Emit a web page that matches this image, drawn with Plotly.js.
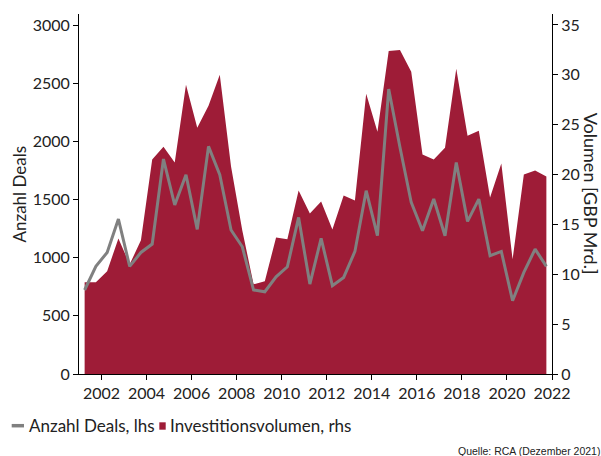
<!DOCTYPE html>
<html>
<head>
<meta charset="utf-8">
<script src="https://cdn.plot.ly/plotly-3.0.1.min.js"></script>
<style>html,body{margin:0;padding:0;background:#fff;}#chart{width:601px;height:456px;}</style>
</head>
<body>
<div id="chart"></div>
<script>
// half-year periods, plotted at mid-half positions
const periods = [];
for (let y = 2001; y <= 2021; y++) { periods.push(y + 0.25); periods.push(y + 0.75); }

const anzahlDeals = [722, 925, 1045, 1332, 925, 1045, 1117, 1848, 1453, 1713,
  1243, 1957, 1713, 1238, 1094, 722, 707, 836, 922, 1346,
  773, 1166, 759, 830, 1054, 1576, 1189, 2450, 1950, 1475,
  1232, 1504, 1189, 1819, 1312, 1504, 1017, 1054, 630, 873,
  1074, 925];

const investitionsvolumen = [9.2, 9.2, 10.3, 13.6, 11.0, 13.4, 21.5, 22.8, 21.2, 29.0,
  24.7, 26.9, 30.0, 20.8, 14.4, 9.0, 9.3, 13.7, 13.5, 18.4,
  16.1, 17.3, 14.5, 17.9, 17.4, 28.1, 24.3, 32.4, 32.5, 30.3,
  22.0, 21.5, 22.7, 30.6, 23.9, 24.4, 17.7, 21.1, 11.5, 20.0,
  20.4, 19.8];

const xTicks = [2002, 2004, 2006, 2008, 2010, 2012, 2014, 2016, 2018, 2020, 2022];
const leftTicks = [0, 500, 1000, 1500, 2000, 2500, 3000];
const rightTicks = [0, 5, 10, 15, 20, 25, 30, 35];

const RED = '#9e1c37';
const GREY = '#808080';
const FONT = 'Lato, "Open Sans", sans-serif';
const TXT = '#222';

const traces = [
  {x: periods, y: investitionsvolumen, yaxis: 'y', type: 'scatter', mode: 'lines',
   fill: 'tozeroy', fillcolor: RED, line: {color: RED, width: 0},
   name: 'Investitionsvolumen, rhs', showlegend: false, hoverinfo: 'skip'},
  {x: periods, y: anzahlDeals, yaxis: 'y2', type: 'scatter', mode: 'lines',
   line: {color: GREY, width: 3}, name: 'Anzahl Deals, lhs', showlegend: false, hoverinfo: 'skip'}
];

const axCommon = {showgrid: false, zeroline: false, showline: true, linecolor: '#000', linewidth: 1,
  ticks: 'outside', ticklen: 5, tickcolor: '#000', tickfont: {family: FONT, size: 16, color: TXT}};

const layout = {
  width: 601, height: 456,
  margin: {l: 79, r: 49, t: 14, b: 82},
  paper_bgcolor: '#fff', plot_bgcolor: '#fff',
  font: {family: FONT, size: 16, color: TXT},
  showlegend: false,
  xaxis: Object.assign({range: [2001, 2022], tickvals: xTicks, ticktext: xTicks.map(String)}, axCommon),
  // volume axis (right) is the base axis so the deals line is drawn on top
  yaxis: Object.assign({range: [0, 36.1], side: 'right', tickvals: rightTicks, ticktext: rightTicks.map(String)}, axCommon),
  yaxis2: Object.assign({range: [0, 3095], side: 'left', overlaying: 'y', tickvals: leftTicks, ticktext: leftTicks.map(String)}, axCommon),
  shapes: [
    {type: 'line', xref: 'paper', yref: 'paper', x0: -0.1423, x1: -0.1163, y0: -0.1436, y1: -0.1436,
     line: {color: GREY, width: 3.5}},
    {type: 'rect', xref: 'paper', yref: 'paper', x0: 0.1698, x1: 0.1833, y0: -0.1547, y1: -0.1342,
     fillcolor: RED, line: {width: 0}}
  ],
  annotations: [
    {text: 'Anzahl Deals', textangle: -90, xref: 'paper', yref: 'paper', x: -0.1258, y: 0.5,
     xanchor: 'center', yanchor: 'middle', showarrow: false, font: {family: FONT, size: 17, color: TXT}},
    {text: 'Volumen [GBP Mrd.]', textangle: 90, xref: 'paper', yref: 'paper', x: 1.083, y: 0.5,
     xanchor: 'center', yanchor: 'middle', showarrow: false, font: {family: FONT, size: 18, color: TXT}},
    {text: 'Anzahl Deals, lhs', xref: 'paper', yref: 'paper', x: -0.1093, y: -0.1425,
     xanchor: 'left', yanchor: 'middle', showarrow: false, font: {family: FONT, size: 17, color: TXT}},
    {text: 'Investitionsvolumen, rhs', xref: 'paper', yref: 'paper', x: 0.188, y: -0.1425,
     xanchor: 'left', yanchor: 'middle', showarrow: false, font: {family: FONT, size: 17, color: TXT}},
    {text: 'Quelle: RCA (Dezember 2021)', xref: 'paper', yref: 'paper', x: 1.106, y: -0.215,
     xanchor: 'right', yanchor: 'middle', showarrow: false, font: {family: 'Liberation Sans, Arial, sans-serif', size: 10.5, color: TXT}}
  ]
};

Plotly.newPlot('chart', traces, layout, {staticPlot: true, displayModeBar: false});
</script>
</body>
</html>
